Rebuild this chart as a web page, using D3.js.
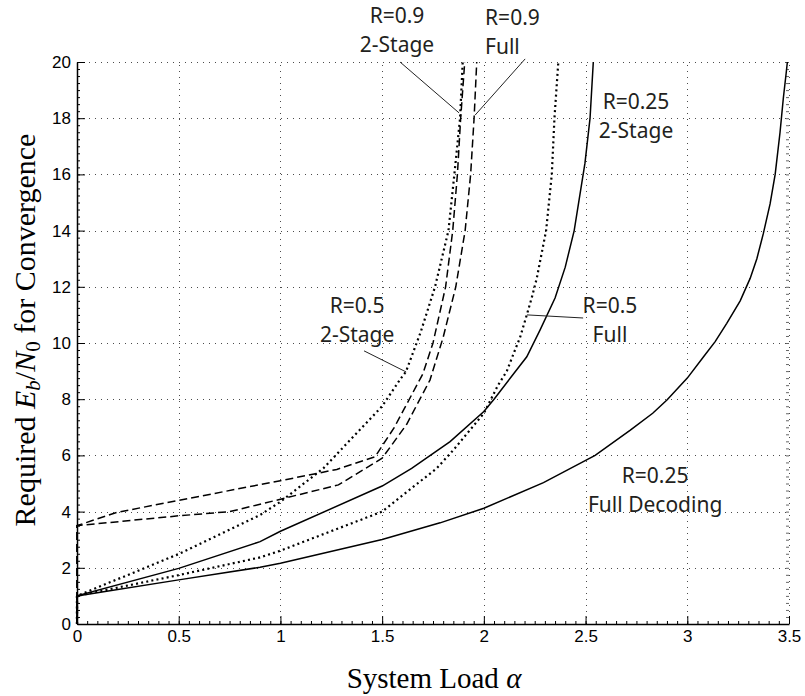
<!DOCTYPE html>
<html><head><meta charset="utf-8">
<script src="https://cdn.jsdelivr.net/npm/d3@7"></script>
<style>body{margin:0;background:#fff}</style>
</head><body>
<svg id="c" width="805" height="696"></svg>
<script>
// ---- data ----
const xTicks = [0, 0.5, 1, 1.5, 2, 2.5, 3, 3.5];
const yTicks = [0, 2, 4, 6, 8, 10, 12, 14, 16, 18, 20];

const r025Full = [[0,0],[0,1],[0.5,1.57],[0.9,2.02],[1,2.16],[1.5,3.01],[1.785,3.6],[2.0,4.12],[2.293,5.03],[2.547,6.0],[2.72,6.9],[2.83,7.5],[2.9,7.97],[3.0,8.75],[3.08,9.51],[3.137,10.05],[3.194,10.7],[3.26,11.5],[3.309,12.3],[3.342,13.0],[3.374,13.9],[3.407,14.95],[3.432,16.0],[3.456,17.5],[3.472,18.7],[3.486,19.6],[3.492,20]];
const r025Two = [[0,0],[0,1],[0.5,1.98],[0.9,2.93],[1,3.3],[1.5,4.91],[1.645,5.54],[1.834,6.49],[2.0,7.56],[2.05,8.0],[2.211,9.51],[2.276,10.46],[2.35,11.6],[2.40,12.7],[2.444,14.0],[2.497,16.4],[2.522,18.0],[2.538,20]];
const r05Full = [[0,0],[0,1],[0.5,1.74],[0.9,2.37],[1,2.61],[1.5,4.0],[1.768,5.54],[1.85,6.19],[2.0,7.5],[2.07,8.5],[2.113,9.0],[2.145,9.6],[2.178,10.2],[2.211,11.0],[2.235,11.6],[2.26,12.3],[2.306,14.0],[2.334,16.0],[2.347,18.0],[2.366,20]];
const r05Two = [[0,0],[0,1],[0.5,2.49],[0.9,3.88],[1,4.35],[1.211,5.54],[1.5,7.75],[1.588,8.7],[1.617,8.98],[1.69,10.4],[1.76,12.0],[1.826,14.0],[1.855,16.0],[1.883,18.0],[1.896,20]];
const r09Two = [[0,0],[0,3.5],[0.195,3.97],[0.5,4.4],[1.0,5.1],[1.277,5.5],[1.465,5.95],[1.56,7.0],[1.70,8.9],[1.75,10.0],[1.812,12.0],[1.847,14.0],[1.870,16.0],[1.886,18.0],[1.906,20]];
const r09Full = [[0,0],[0,3.5],[0.5,3.85],[0.752,4.0],[1.0,4.44],[1.285,4.95],[1.5,5.9],[1.62,7.1],[1.735,8.68],[1.80,10.2],[1.862,12.0],[1.908,14.0],[1.935,16.0],[1.952,18.0],[1.965,20]];

const seriesNames = ["r025Full","r025Two","r05Full","r05Two","r09Two","r09Full"];
const seriesData = [r025Full, r025Two, r05Full, r05Two, r09Two, r09Full];
const seriesStyle = ["solid","solid","dot","dot","dash","dash"];

// annotation texts and anchors (data units)
const annTexts = [["R=0.9","2-Stage"],["R=0.9","Full"],["R=0.25","2-Stage"],["R=0.5","2-Stage"],["R=0.5","Full"],["R=0.25","Full Decoding"]];
const annAnchors = [[1.573,21.39,"middle"],[2.006,21.32,"start"],[2.748,18.33,"middle"],[1.377,11.07,"middle"],[2.62,11.07,"middle"],[2.842,5.02,"middle"]];
const leaders = [[[1.588,20.0],[1.878,18.19]],[[2.203,20.11],[1.957,18.11]],[[1.411,9.72],[1.618,8.97]],[[2.212,11.0],[2.488,10.89]]];

// ---- chart ----
const svg = d3.select("#c");
const x = d3.scaleLinear().domain([0,3.5]).range([77,789]);
const y = d3.scaleLinear().domain([0,20]).range([624,62]);

// grid
const grid = svg.append("g").attr("stroke","#000").attr("stroke-width",1).attr("stroke-dasharray","1,5").attr("opacity",0.7);
grid.selectAll("line.v").data(xTicks.filter(d=>d>0)).join("line")
  .attr("x1",d=>Math.round(x(d))+0.5).attr("x2",d=>Math.round(x(d))+0.5).attr("y1",y(0)).attr("y2",y(20));
grid.selectAll("line.h").data(yTicks.filter(d=>d>0)).join("line")
  .attr("x1",x(0)).attr("x2",x(3.5)).attr("y1",d=>Math.round(y(d))+0.5).attr("y2",d=>Math.round(y(d))+0.5);

// minor ticks
const xMinor = d3.range(0, 3.5001, 0.05);
const yMinor = d3.range(0, 20.001, 0.25);
const fontAxis = "'Liberation Sans', Arial, sans-serif";
svg.append("g").attr("transform",`translate(0,${y(0)})`)
  .call(d3.axisBottom(x).tickValues(xMinor).tickSize(-3).tickSizeOuter(0).tickFormat(""))
  .call(g=>g.select(".domain").remove());
svg.append("g").attr("transform",`translate(${x(0)},0)`)
  .call(d3.axisLeft(y).tickValues(yMinor).tickSize(-3).tickSizeOuter(0).tickFormat(""))
  .call(g=>g.select(".domain").remove());
svg.append("g").attr("transform",`translate(${x(3.5)},0)`).attr("opacity",0.6)
  .call(d3.axisRight(y).tickValues(yMinor).tickSize(-3).tickSizeOuter(0).tickFormat(""))
  .call(g=>g.select(".domain").remove());

// major axes
const xAxis = svg.append("g").attr("transform",`translate(0,${y(0)})`)
  .call(d3.axisBottom(x).tickValues(xTicks).tickSize(-8).tickSizeOuter(0).tickPadding(6).tickFormat(d=>String(d)));
const yAxis = svg.append("g").attr("transform",`translate(${x(0)},0)`)
  .call(d3.axisLeft(y).tickValues(yTicks).tickSize(-8).tickSizeOuter(0).tickPadding(6).tickFormat(d=>String(d)));
[xAxis,yAxis].forEach(g=>{
  g.selectAll("text").attr("font-family",fontAxis).attr("font-size",17).attr("fill","#000");
  g.select(".domain").attr("stroke-width",1.5);
});

// series
const line = d3.line().x(d=>x(d[0])).y(d=>y(d[1]));
const dashFor = {solid:null, dot:"2,3.2", dash:"8,4"};
svg.append("g").selectAll("path").data(seriesData).join("path")
  .attr("d",line).attr("fill","none").attr("stroke","#000")
  .attr("stroke-width",(d,i)=>seriesStyle[i]==="dot"?2.2:1.5)
  .attr("stroke-dasharray",(d,i)=>dashFor[seriesStyle[i]]);

// leaders
svg.append("g").selectAll("line").data(leaders).join("line")
  .attr("x1",d=>x(d[0][0])).attr("y1",d=>y(d[0][1]))
  .attr("x2",d=>x(d[1][0])).attr("y2",d=>y(d[1][1]))
  .attr("stroke","#222").attr("stroke-width",1);

// annotations
const ann = svg.append("g").attr("font-family","'Noto Sans', 'Open Sans', sans-serif").attr("font-size",21).attr("fill","#231f20");
annTexts.forEach((lines,i)=>{
  const [ax,ay,anc] = annAnchors[i];
  const t = ann.append("text").attr("text-anchor",anc);
  lines.forEach((s,j)=>t.append("tspan").attr("x",x(ax)).attr("y",y(ay)+j*29).text(s));
});

// axis labels
const serif = "'Liberation Serif', 'Times New Roman', serif";
svg.append("text").attr("x",434).attr("y",688).attr("text-anchor","middle")
  .attr("font-family",serif).attr("font-size",29).attr("fill","#000")
  .call(t=>{ t.append("tspan").text("System Load ");
             t.append("tspan").attr("font-style","italic").text("α"); });

const yl = svg.append("text").attr("transform","translate(35,330) rotate(-90)").attr("text-anchor","middle")
  .attr("font-family",serif).attr("font-size",30).attr("fill","#000");
yl.append("tspan").text("Required ");
yl.append("tspan").attr("font-style","italic").text("E");
yl.append("tspan").attr("font-style","italic").attr("font-size",21).attr("baseline-shift","-25%").text("b");
yl.append("tspan").attr("baseline-shift","0%").text("/");
yl.append("tspan").attr("font-style","italic").text("N");
yl.append("tspan").attr("font-size",21).attr("baseline-shift","-25%").text("0");
yl.append("tspan").attr("baseline-shift","0%").text(" for Convergence");
</script>
</body></html>
